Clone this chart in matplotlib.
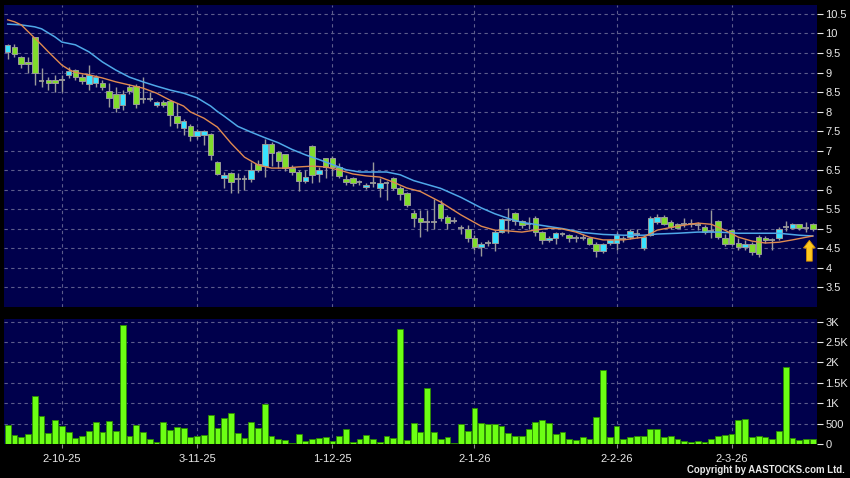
import numpy as np
import matplotlib
matplotlib.use("Agg")
import matplotlib.pyplot as plt

# daily candles, oldest first
opens = [9.52, 9.66, 9.41, 9.27, 9.90, 8.79, 8.80, 8.80, 8.81, 8.94,
         9.06, 8.89, 8.70, 8.74, 8.72, 8.53, 8.46, 8.17, 8.62, 8.66,
         8.32, 8.32, 8.17, 8.24, 8.27, 7.89, 7.59, 7.63, 7.37, 7.39,
         7.42, 6.70, 6.29, 6.43, 6.26, 6.26, 6.26, 6.65, 6.60, 7.16,
         6.95, 6.90, 6.56, 6.46, 6.23, 7.12, 6.39, 6.80, 6.80, 6.59,
         6.27, 6.29, 6.20, 6.06, 6.16, 6.03, 6.18, 6.29, 6.05, 5.90,
         5.39, 5.28, 5.17, 5.17, 5.63, 5.29, 5.19, 5.02, 5.00, 4.77,
         4.52, 4.62, 4.64, 4.92, 5.22, 5.39, 5.19, 5.12, 5.27, 4.90,
         4.71, 4.77, 4.87, 4.83, 4.76, 4.76, 4.75, 4.60, 4.42, 4.62,
         4.62, 4.74, 4.79, 4.87, 4.49, 4.83, 5.17, 5.30, 5.17, 5.11,
         5.13, 5.11, 5.10, 5.05, 4.95, 5.19, 4.77, 4.96, 4.62, 4.52,
         4.60, 4.79, 4.76, 4.71, 4.77, 5.03, 5.02, 5.11, 5.02, 5.11]
highs = [9.72, 9.72, 9.43, 9.41, 9.92, 9.11, 8.89, 8.94, 8.94, 9.15,
         9.10, 8.97, 9.19, 8.94, 8.81, 8.72, 8.64, 8.55, 8.71, 8.71,
         8.89, 8.50, 8.28, 8.30, 8.30, 8.21, 7.82, 7.68, 7.55, 7.52,
         7.45, 6.73, 6.46, 6.46, 6.42, 6.38, 6.71, 6.75, 7.29, 7.22,
         7.00, 6.92, 6.63, 6.50, 6.50, 7.14, 6.59, 6.82, 6.85, 6.68,
         6.37, 6.33, 6.24, 6.16, 6.71, 6.29, 6.21, 6.33, 6.10, 5.93,
         5.47, 5.47, 5.47, 5.77, 5.73, 5.35, 5.29, 5.10, 5.10, 4.83,
         4.66, 4.70, 4.96, 5.27, 5.52, 5.42, 5.22, 5.30, 5.33, 4.95,
         4.80, 4.92, 4.90, 4.86, 4.83, 4.87, 4.78, 4.66, 4.63, 4.74,
         4.92, 4.82, 5.00, 5.00, 4.83, 5.32, 5.38, 5.36, 5.22, 5.14,
         5.26, 5.24, 5.16, 5.09, 5.47, 5.22, 4.85, 5.00, 4.75, 4.70,
         4.66, 4.83, 4.80, 4.76, 5.03, 5.20, 5.14, 5.13, 5.17, 5.14]
lows = [9.35, 9.39, 9.11, 8.98, 8.68, 8.64, 8.55, 8.51, 8.51, 8.85,
        8.81, 8.71, 8.55, 8.64, 8.55, 8.11, 8.00, 8.04, 8.45, 8.08,
        8.21, 8.28, 8.12, 8.12, 7.62, 7.57, 7.40, 7.25, 7.30, 7.14,
        6.76, 6.37, 6.03, 5.91, 5.91, 6.00, 6.20, 6.45, 6.33, 6.60,
        6.56, 6.47, 6.38, 5.97, 6.16, 6.16, 6.20, 6.30, 6.35, 6.30,
        6.12, 6.08, 6.12, 6.01, 6.07, 5.82, 5.73, 5.98, 5.72, 5.55,
        5.05, 4.79, 4.93, 5.00, 5.20, 4.98, 5.15, 4.85, 4.65, 4.45,
        4.29, 4.55, 4.43, 4.88, 4.88, 5.10, 5.02, 4.98, 4.80, 4.60,
        4.65, 4.60, 4.80, 4.66, 4.66, 4.70, 4.57, 4.26, 4.38, 4.58,
        4.45, 4.65, 4.72, 4.75, 4.45, 4.80, 5.12, 5.08, 5.00, 4.98,
        5.05, 5.05, 4.97, 4.85, 4.76, 4.72, 4.55, 4.57, 4.44, 4.46,
        4.33, 4.28, 4.62, 4.45, 4.70, 4.95, 4.98, 4.97, 4.90, 4.95]
closes = [9.70, 9.47, 9.21, 9.21, 9.00, 8.79, 8.72, 8.72, 8.81, 9.05,
          8.89, 8.79, 8.93, 8.88, 8.64, 8.34, 8.08, 8.44, 8.53, 8.19,
          8.32, 8.32, 8.24, 8.17, 7.91, 7.70, 7.76, 7.37, 7.51, 7.50,
          6.88, 6.39, 6.37, 6.20, 6.26, 6.26, 6.50, 6.50, 7.17, 6.94,
          6.74, 6.56, 6.46, 6.23, 6.31, 6.37, 6.50, 6.59, 6.59, 6.35,
          6.20, 6.16, 6.20, 6.12, 6.16, 6.18, 6.18, 6.03, 5.88, 5.60,
          5.26, 5.17, 5.17, 5.17, 5.26, 5.15, 5.19, 5.02, 4.77, 4.53,
          4.60, 4.62, 4.92, 5.24, 5.22, 5.19, 5.09, 5.12, 4.92, 4.71,
          4.77, 4.88, 4.87, 4.75, 4.76, 4.76, 4.60, 4.42, 4.60, 4.71,
          4.83, 4.74, 4.94, 4.87, 4.79, 5.28, 5.30, 5.11, 5.05, 5.02,
          5.13, 5.15, 5.10, 4.92, 4.95, 4.79, 4.60, 4.60, 4.52, 4.60,
          4.41, 4.36, 4.71, 4.71, 5.00, 5.03, 5.11, 5.02, 5.02, 4.98]
volumes = [465, 220, 172, 245, 1176, 686, 277, 588, 434, 301,
           154, 189, 318, 532, 294, 571, 326, 2908, 189, 465,
           294, 122, 41, 547, 351, 408, 384, 163, 204, 212,
           702, 392, 645, 751, 269, 139, 531, 392, 980, 196,
           114, 90, 16, 237, 82, 131, 139, 163, 82, 204,
           367, 57, 114, 212, 114, 49, 189, 147, 2825, 98,
           514, 301, 1364, 286, 122, 180, 16, 490, 318, 890,
           506, 490, 490, 441, 261, 204, 196, 359, 539, 580,
           506, 245, 286, 131, 90, 180, 122, 653, 1813, 172,
           441, 122, 180, 189, 196, 359, 375, 180, 189, 122,
           82, 41, 73, 57, 131, 196, 220, 245, 580, 612,
           163, 196, 172, 122, 310, 1894, 147, 98, 122, 122]

# moving averages as drawn (orange = short, blue = long)
ma_short_idx = [0, 1, 2, 3, 4, 5, 6, 7, 8, 9, 10, 12, 14, 16, 18, 20, 22, 24,
                26, 27, 29, 31, 33, 35, 37, 39, 41, 43, 45, 47, 49, 51, 53, 55,
                57, 59, 61, 64, 67, 70, 72, 74, 76, 78, 80, 82, 84, 86, 88, 91,
                94, 96, 99, 102, 104, 106, 108, 110, 112, 114, 116, 119]
ma_short = [10.35, 10.30, 10.22, 10.05, 9.88, 9.71, 9.53, 9.36, 9.19, 9.08,
            9.00, 8.94, 8.86, 8.76, 8.68, 8.60, 8.47, 8.29, 8.14, 7.99, 7.83,
            7.60, 7.19, 6.83, 6.63, 6.55, 6.55, 6.58, 6.60, 6.58, 6.50, 6.40,
            6.35, 6.32, 6.19, 6.04, 5.95, 5.68, 5.35, 5.06, 4.96, 4.94, 4.91,
            4.96, 5.01, 4.99, 4.91, 4.78, 4.71, 4.71, 4.78, 4.96, 5.06, 5.14,
            5.11, 4.96, 4.78, 4.68, 4.63, 4.65, 4.71, 4.81]
ma_long_idx = [0, 2, 4, 5, 7, 8, 10, 12, 14, 16, 18, 20, 22, 24, 26, 28, 30,
               31, 32, 34, 36, 38, 40, 42, 44, 46, 48, 50, 52, 54, 56, 58, 60,
               61, 64, 67, 70, 72, 74, 76, 79, 82, 85, 88, 91, 94, 96, 99, 102,
               105, 108, 111, 114, 117, 119]
ma_long = [10.24, 10.22, 10.17, 10.12, 9.91, 9.78, 9.71, 9.53, 9.27, 9.06,
           8.88, 8.76, 8.65, 8.55, 8.47, 8.35, 8.14, 8.00, 7.88, 7.62, 7.47,
           7.33, 7.20, 7.03, 6.89, 6.77, 6.64, 6.51, 6.45, 6.45, 6.45, 6.38,
           6.23, 6.18, 6.03, 5.80, 5.53, 5.38, 5.26, 5.16, 5.08, 5.00, 4.90,
           4.85, 4.83, 4.83, 4.86, 4.88, 4.91, 4.91, 4.88, 4.88, 4.88, 4.83,
           4.81]

date_idx = [8, 28, 48, 69, 90, 107]
date_labels = ["2-10-25", "3-11-25", "1-12-25", "2-1-26", "2-2-26", "2-3-26"]
price_ticks = [3.5, 4, 4.5, 5, 5.5, 6, 6.5, 7, 7.5, 8, 8.5, 9, 9.5, 10, 10.5]
vol_ticks = [0, 500, 1000, 1500, 2000, 2500, 3000]
vol_labels = ["0", "500", "1K", "1.5K", "2K", "2.5K", "3K"]

BG = "#00004c"
GRID = "#5c5c8c"
UP = "#38e2ff"
DOWN = "#80dc2c"
EDGE = "#9a9a9a"
VOL = "#6cff14"
TXT = "#e8e8e8"
FONT = "Liberation Sans"

fig = plt.figure(figsize=(8.5, 4.78), dpi=100, facecolor="black")
ax_p = fig.add_axes([4 / 850, 1 - 307 / 478, 813 / 850, 302 / 478])
ax_v = fig.add_axes([4 / 850, 1 - 444 / 478, 813 / 850, 125 / 478])

o = np.array(opens)
h = np.array(highs)
l = np.array(lows)
c = np.array(closes)
x = np.arange(len(o))

for ax in (ax_p, ax_v):
    ax.set_facecolor(BG)
    for s in ax.spines.values():
        s.set_visible(False)
    ax.set_xlim(-0.55, 119.63)
    ax.set_xticks(date_idx)
    ax.grid(True, color=GRID, linestyle=(0, (3, 3)), linewidth=0.8)
    ax.set_axisbelow(True)
    ax.yaxis.tick_right()
    ax.tick_params(axis="y", colors=TXT, length=4, width=0.8, pad=2,
                   labelsize=8)

# price panel
ax_p.vlines(x, l, h, color=EDGE, linewidth=1, zorder=2)
doji = o == c
up = (c > o)
dn = (c < o)
ax_p.bar(x[up], (c - o)[up], bottom=o[up], width=0.82, color=UP,
         edgecolor=EDGE, linewidth=0.7, zorder=3)
ax_p.bar(x[dn], (o - c)[dn], bottom=c[dn], width=0.82, color=DOWN,
         edgecolor=EDGE, linewidth=0.7, zorder=3)
ax_p.hlines(o[doji], x[doji] - 0.42, x[doji] + 0.42, color=EDGE,
            linewidth=1.3, zorder=3)
ax_p.plot(ma_long_idx, ma_long, color="#4fa8e8", linewidth=1.1, zorder=4)
ax_p.plot(ma_short_idx, ma_short, color="#e08a50", linewidth=1.0, zorder=5)

# yellow arrow under the last MA value
ax_p.annotate("", xy=(ma_short_idx[-1] - 0.5, ma_short[-1] - 0.04),
              xytext=(0, -19), textcoords="offset points",
              arrowprops=dict(arrowstyle="simple,head_length=0.55,head_width=0.85,tail_width=0.42",
                              facecolor="#ffc81e", edgecolor="#d08a00",
                              linewidth=0.6), zorder=6)

ax_p.set_ylim(2.99, 10.73)
ax_p.set_yticks(price_ticks)
ax_p.set_yticklabels([f"{t:g}" for t in price_ticks], fontfamily=FONT)
ax_p.tick_params(axis="x", length=0, labelbottom=False)

# volume panel
ax_v.bar(x, volumes, width=0.86, color=VOL, edgecolor="#2c8c00",
         linewidth=0.6, zorder=3)
ax_v.set_ylim(0, 3062)
ax_v.set_yticks(vol_ticks)
ax_v.set_yticklabels(vol_labels, fontfamily=FONT)
ax_v.set_xticklabels(date_labels, fontfamily=FONT)
ax_v.tick_params(axis="x", colors=TXT, length=3, width=0.8, pad=4,
                 labelsize=8, direction="out")
ax_v.tick_params(axis="x", color="#888888")

fig.text(0.994, 0.006, "Copyright by AASTOCKS.com Ltd.", color=TXT,
         fontsize=6.9, fontweight="bold", fontfamily=FONT, ha="right",
         va="bottom")

fig.savefig("out.png", dpi=100, facecolor="black")
